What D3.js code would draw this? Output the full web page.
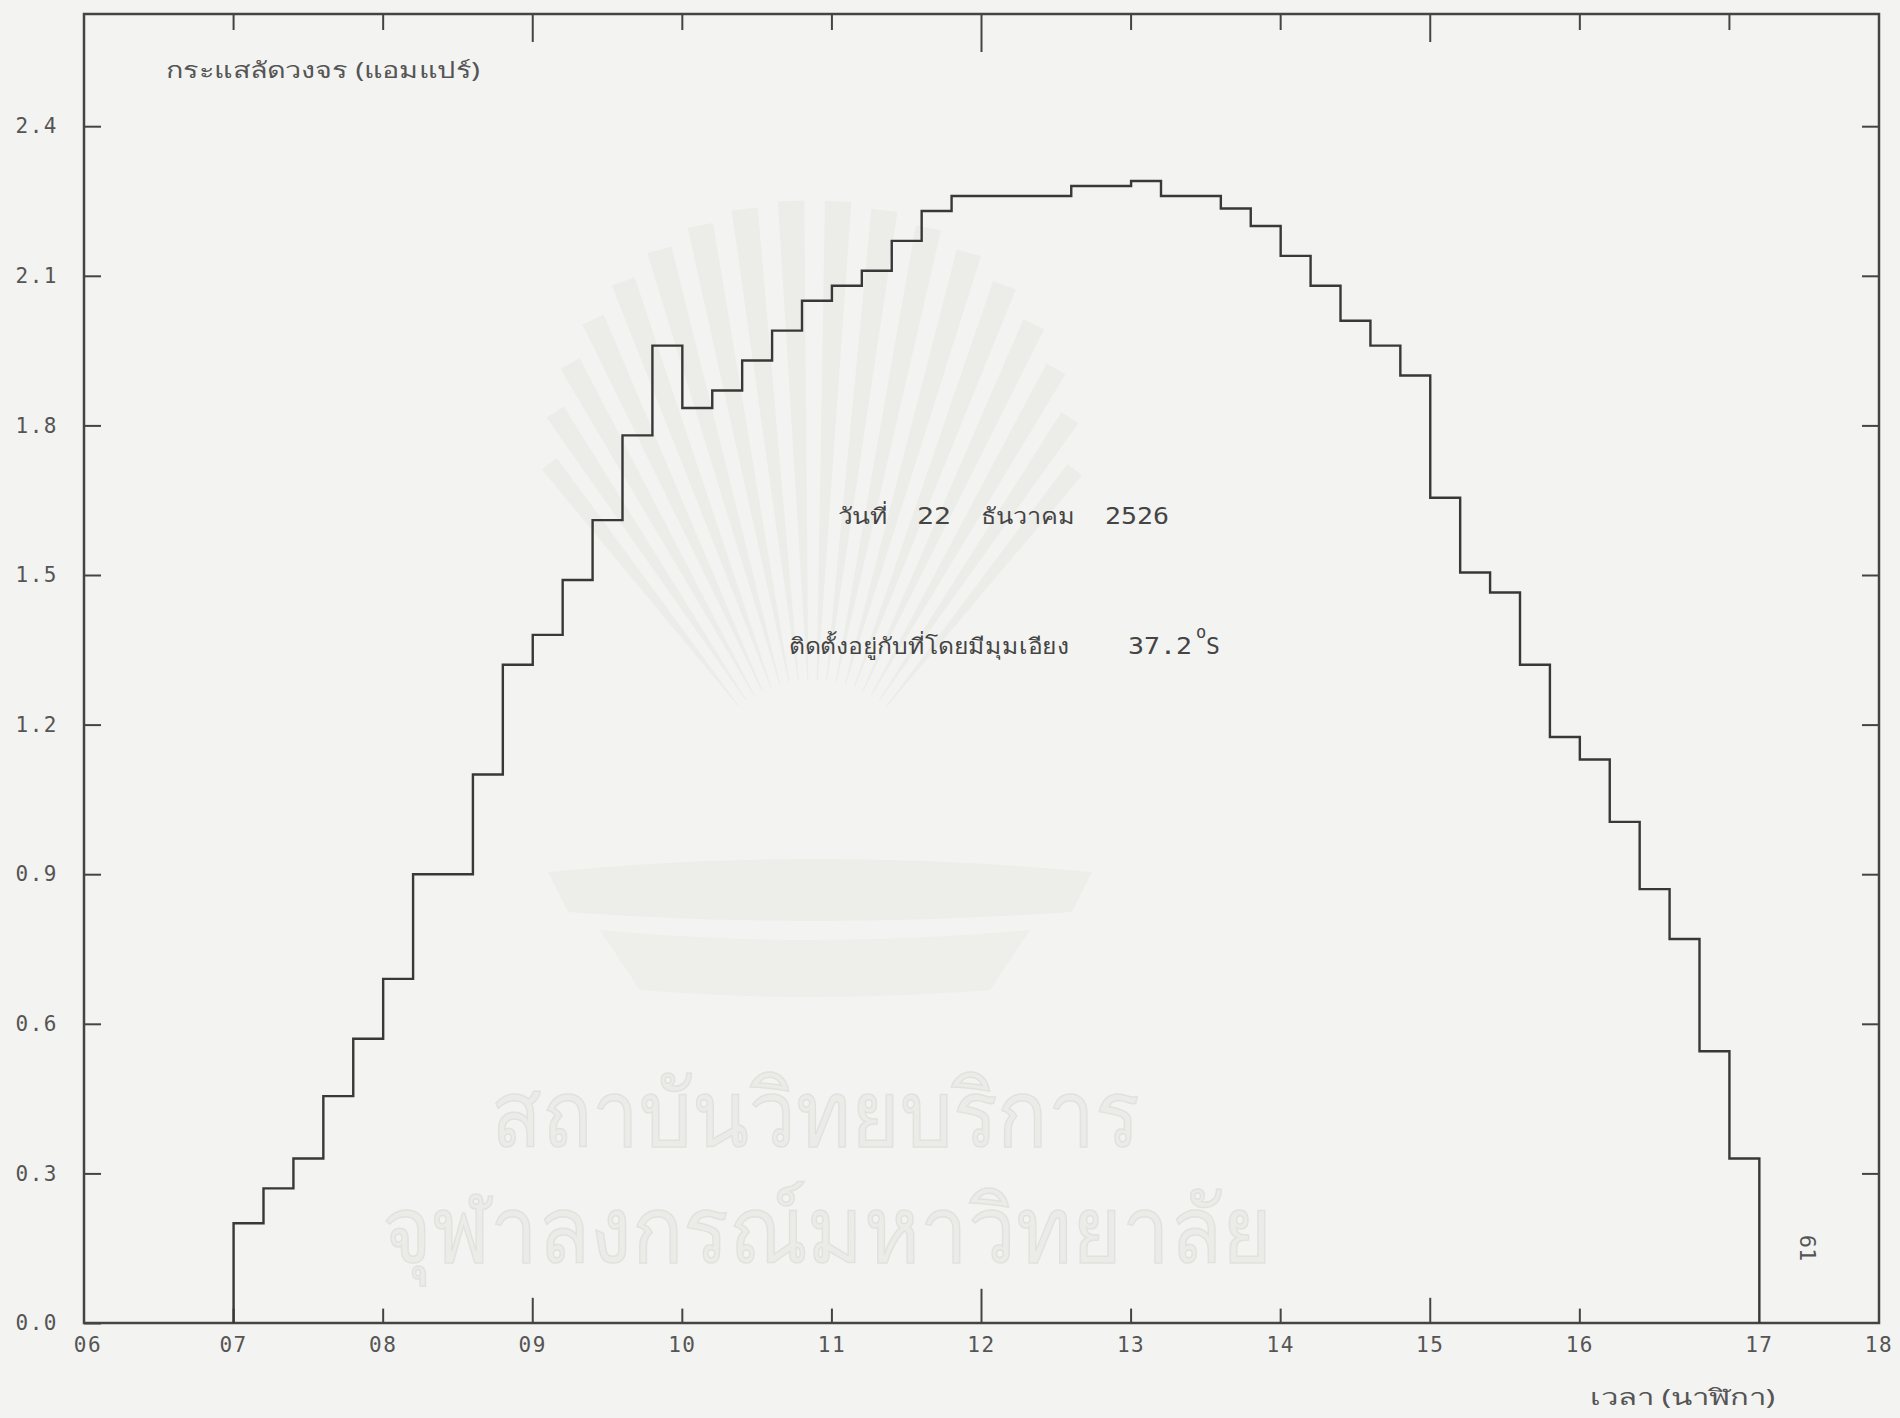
<!DOCTYPE html>
<html>
<head>
<meta charset="utf-8">
<script src="https://cdn.jsdelivr.net/npm/d3@7"></script>
<style>
  html, body { margin: 0; padding: 0; background: #f3f3f1; }
  svg { display: block; }
  .mono { font-family: "DejaVu Sans Mono", "Liberation Mono", monospace; }
  .thai { font-family: "Noto Sans", "DejaVu Sans", sans-serif; }
</style>
</head>
<body>
<svg id="chart" width="1900" height="1418"></svg>
<script>
// Start time of each 12-minute interval (hours)
const hours = [
  7.0, 7.2, 7.4, 7.6, 7.8, 8.0, 8.2, 8.4, 8.6, 8.8,
  9.0, 9.2, 9.4, 9.6, 9.8, 10.0, 10.2, 10.4, 10.6, 10.8,
  11.0, 11.2, 11.4, 11.6, 11.8, 12.0, 12.2, 12.4, 12.6, 12.8,
  13.0, 13.2, 13.4, 13.6, 13.8, 14.0, 14.2, 14.4, 14.6, 14.8,
  15.0, 15.2, 15.4, 15.6, 15.8, 16.0, 16.2, 16.4, 16.6, 16.8,
  17.0
];
// Short-circuit current (A) measured in each interval
const current = [
  0.20, 0.27, 0.33, 0.455, 0.57, 0.69, 0.90, 0.90, 1.10, 1.32,
  1.38, 1.49, 1.61, 1.78, 1.96, 1.835, 1.87, 1.93, 1.99, 2.05,
  2.08, 2.11, 2.17, 2.23, 2.26, 2.26, 2.26, 2.26, 2.28, 2.28,
  2.29, 2.26, 2.26, 2.235, 2.20, 2.14, 2.08, 2.01, 1.96, 1.90,
  1.655, 1.505, 1.465, 1.32, 1.175, 1.13, 1.005, 0.87, 0.77, 0.545,
  0.33
];
const recordEnd = 17.2;                 // end of the last interval
const hourTicks = [7, 8, 9, 10, 11, 12, 13, 14, 15, 16, 17];
const hourLabels = [6, 7, 8, 9, 10, 11, 12, 13, 14, 15, 16, 17, 18];
const currentTicks = [0.0, 0.3, 0.6, 0.9, 1.2, 1.5, 1.8, 2.1, 2.4];

const yTitle = "กระแสลัดวงจร (แอมแปร์)";
const xTitle = "เวลา (นาฬิกา)";
const dateWords = ["วันที่", "22", "ธันวาคม", "2526"];
const tiltWords = ["ติดตั้งอยู่กับที่โดยมีมุมเอียง", "37.2", "o", "S"];
const pageNo = "61";
const stamp = ["สถาบันวิทยบริการ", "จุฬาลงกรณ์มหาวิทยาลัย"];

const svg = d3.select("#chart");
const ink = "#383838";
const frame = { left: 84, right: 1879, top: 14, bottom: 1323 };

const x = d3.scaleLinear().domain([6, 18]).range([frame.left, frame.right]);
const y = d3.scaleLinear().domain([0, 2.625]).range([frame.bottom, frame.top]);

// faint library emblem (rays over a pedestal) and stamp behind the plot
const emblem = svg.append("g").attr("fill", "#ecece9");
const ox = 812, oy = 800;
d3.range(-128, -51, 4.5).forEach(a => {
  const r = a * Math.PI / 180;
  const off = Math.abs(a + 90);
  const len = 600 - off * off * 0.12;          // rounded, flame-like outline
  const w = 0.022;
  const p = (ang, rad) => [ox + rad * Math.cos(ang), oy + rad * Math.sin(ang)];
  const pts = [p(r - 0.004, 120), p(r - w, len), p(r + w, len), p(r + 0.004, 120)];
  emblem.append("path").attr("d", "M" + pts.map(q => q.join(",")).join("L") + "Z");
});
emblem.append("path")
  .attr("d", "M548,872 Q812,846 1092,872 L1072,912 Q812,930 568,912 Z")
  .attr("fill", "#edede9");
emblem.append("path")
  .attr("d", "M600,930 Q812,950 1030,930 L990,990 Q812,1004 640,990 Z")
  .attr("fill", "#eeeeeb");

const stampG = svg.append("g").attr("class", "thai")
  .attr("fill", "#ebebe8").attr("stroke", "#e1e1de").attr("stroke-width", 1.5);
stampG.append("text").attr("x", 491).attr("y", 1146).attr("font-size", 92)
  .attr("textLength", 648).attr("lengthAdjust", "spacingAndGlyphs").text(stamp[0]);
stampG.append("text").attr("x", 382).attr("y", 1262).attr("font-size", 92)
  .attr("textLength", 890).attr("lengthAdjust", "spacingAndGlyphs").text(stamp[1]);

// plot frame
svg.append("rect")
  .attr("x", frame.left).attr("y", frame.top)
  .attr("width", frame.right - frame.left).attr("height", frame.bottom - frame.top)
  .attr("fill", "none").attr("stroke", "#444").attr("stroke-width", 2.5);

// tick length: longer every three hours, longest at noon
const tickLen = h => h === 12 ? 38 : (h % 3 === 0 ? 28 : 16);

// top ticks hang down
svg.append("g").selectAll("line").data(hourTicks).join("line")
  .attr("x1", d => x(d)).attr("x2", d => x(d))
  .attr("y1", frame.top).attr("y2", d => frame.top + tickLen(d))
  .attr("stroke", "#444").attr("stroke-width", 2);

// bottom ticks rise up
svg.append("g").selectAll("line").data(hourTicks.filter(h => h < 17)).join("line")
  .attr("x1", d => x(d)).attr("x2", d => x(d))
  .attr("y1", frame.bottom).attr("y2", d => frame.bottom - tickLen(d) * 0.9)
  .attr("stroke", "#444").attr("stroke-width", 2);

// left axis: inward ticks, labels outside
const leftAxis = svg.append("g")
  .attr("transform", `translate(${frame.left},0)`)
  .call(d3.axisLeft(y).tickValues(currentTicks).tickSize(-17).tickPadding(26)
    .tickFormat(d3.format(".1f")));
leftAxis.select(".domain").remove();
leftAxis.selectAll("line").attr("stroke", "#444").attr("stroke-width", 2);
leftAxis.selectAll("text").attr("class", "mono").attr("font-size", 21)
  .attr("fill", "#555").attr("letter-spacing", 1.5);

// right axis: inward ticks only
const rightAxis = svg.append("g")
  .attr("transform", `translate(${frame.right},0)`)
  .call(d3.axisRight(y).tickValues(currentTicks.filter(v => v > 0)).tickSize(-17).tickFormat(""));
rightAxis.select(".domain").remove();
rightAxis.selectAll("line").attr("stroke", "#444").attr("stroke-width", 2);

// hour labels; "17" sits under the end of the record
svg.append("g").attr("class", "mono").attr("font-size", 21).attr("fill", "#555")
  .attr("text-anchor", "middle").attr("letter-spacing", 1.5)
  .selectAll("text").data(hourLabels).join("text")
  .attr("x", d => (d === 17 ? x(recordEnd) : x(d)) + (d === 6 ? 4 : 0))
  .attr("y", 1352)
  .text(d3.format("02d"));

// step trace of the short-circuit current
const pts = [[hours[0], 0]]
  .concat(hours.map((h, i) => [h, current[i]]))
  .concat([[recordEnd, current[current.length - 1]], [recordEnd, 0]]);
svg.append("path")
  .datum(pts)
  .attr("fill", "none").attr("stroke", ink).attr("stroke-width", 2.4)
  .attr("d", d3.line().x(d => x(d[0])).y(d => y(d[1])).curve(d3.curveStepAfter));

// axis titles
svg.append("text").attr("class", "thai").attr("x", 166).attr("y", 78)
  .attr("font-size", 22).attr("fill", "#555")
  .attr("textLength", 314).attr("lengthAdjust", "spacingAndGlyphs").text(yTitle);
svg.append("text").attr("class", "thai").attr("x", 1590).attr("y", 1405)
  .attr("font-size", 22).attr("fill", "#555")
  .attr("textLength", 185).attr("lengthAdjust", "spacingAndGlyphs").text(xTitle);

// annotation lines
const note = svg.append("g").attr("fill", "#444");
const dateBox = [[838, 50], [917, 34], [981, 94], [1105, 64]];
dateWords.forEach((w, i) => {
  note.append("text").attr("class", /\d/.test(w) ? "mono" : "thai")
    .attr("x", dateBox[i][0]).attr("y", 524).attr("font-size", /\d/.test(w) ? 23 : 22)
    .attr("textLength", dateBox[i][1]).attr("lengthAdjust", "spacingAndGlyphs").text(w);
});
note.append("text").attr("class", "thai").attr("x", 789).attr("y", 654)
  .attr("font-size", 22).attr("textLength", 280).attr("lengthAdjust", "spacingAndGlyphs")
  .text(tiltWords[0]);
note.append("text").attr("class", "mono").attr("x", 1128).attr("y", 654)
  .attr("font-size", 23).attr("textLength", 64).attr("lengthAdjust", "spacingAndGlyphs")
  .text(tiltWords[1]);
note.append("text").attr("class", "mono").attr("x", 1196).attr("y", 638)
  .attr("font-size", 17).text(tiltWords[2]);
note.append("text").attr("class", "mono").attr("x", 1206).attr("y", 654)
  .attr("font-size", 23).text(tiltWords[3]);

// page number, printed sideways
svg.append("text").attr("class", "mono").attr("font-size", 22).attr("fill", "#555")
  .attr("text-anchor", "middle")
  .attr("transform", "translate(1800,1248) rotate(90)")
  .text(pageNo);
</script>
</body>
</html>
